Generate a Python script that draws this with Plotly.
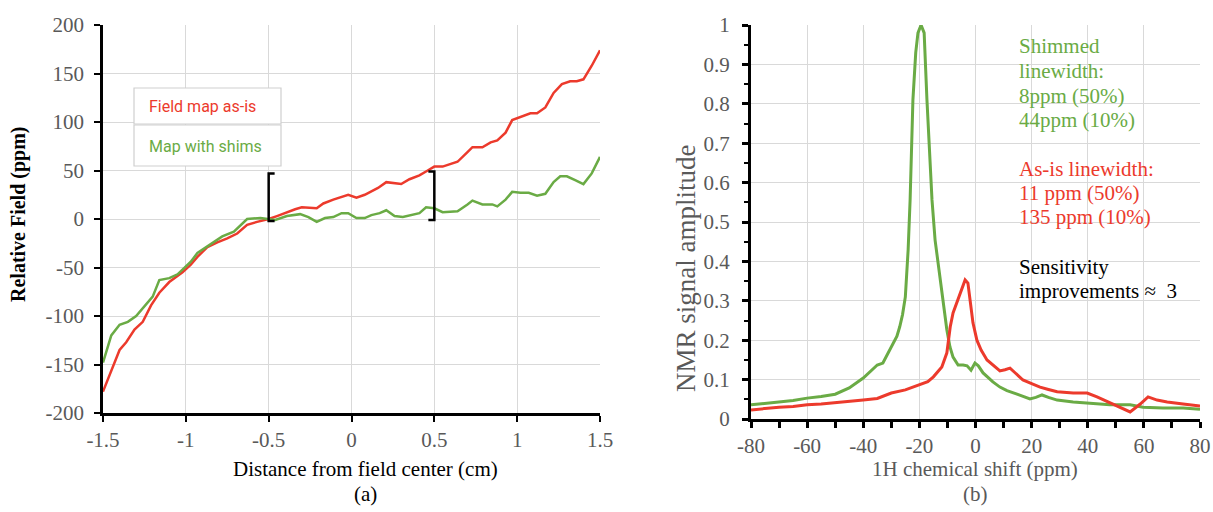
import plotly.graph_objects as go

# ---------------- data: panel (a) ----------------
asis_x = [-1.50, -1.45, -1.40, -1.36, -1.31, -1.26, -1.21, -1.16, -1.10, -1.02, -0.97, -0.93, -0.87, -0.81,
          -0.75, -0.69, -0.63, -0.57, -0.50, -0.45, -0.39, -0.34, -0.30, -0.21, -0.17, -0.11, -0.02, 0.03,
          0.08, 0.16, 0.21, 0.26, 0.30, 0.35, 0.41, 0.46, 0.50, 0.55, 0.64, 0.70, 0.73, 0.79, 0.84, 0.88,
          0.93, 0.97, 1.02, 1.08, 1.12, 1.17, 1.22, 1.27, 1.32, 1.36, 1.40, 1.45, 1.50]
asis_y = [-178, -157, -135, -127, -114, -106, -89, -76, -65, -55, -47, -39, -29, -24,
          -20, -15, -6, -3, 0, 3, 7, 10, 12, 11, 16, 20, 25, 22,
          25, 32, 38, 37, 36, 41, 45, 50, 54, 54, 59, 69, 74, 74, 79, 81,
          89, 102, 105, 109, 109, 115, 130, 139, 142, 142, 144, 158, 174]

shim_x = [-1.50, -1.45, -1.40, -1.35, -1.30, -1.26, -1.20, -1.16, -1.10, -1.05, -1.02, -0.97, -0.93, -0.87,
          -0.83, -0.78, -0.71, -0.67, -0.63, -0.55, -0.50, -0.46, -0.39, -0.31, -0.26, -0.21, -0.16, -0.11,
          -0.06, -0.02, 0.03, 0.08, 0.12, 0.17, 0.21, 0.26, 0.31, 0.37, 0.41, 0.45, 0.50, 0.55, 0.64, 0.70,
          0.73, 0.79, 0.85, 0.88, 0.93, 0.97, 1.02, 1.07, 1.12, 1.17, 1.22, 1.26, 1.30, 1.35, 1.40, 1.45, 1.50]
shim_y = [-148, -120, -109, -106, -100, -92, -80, -63, -61, -57, -52, -44, -35, -28,
          -24, -18, -13, -7, 0, 1, 0, -1, 3, 5, 2, -3, 1, 2,
          6, 6, 1, 1, 4, 6, 9, 3, 2, 4, 6, 12, 11, 7, 8, 15,
          19, 15, 15, 13, 20, 28, 27, 27, 24, 26, 38, 44, 44, 40, 36, 47, 64]

a_xticks = [-1.5, -1, -0.5, 0, 0.5, 1, 1.5]
a_xlabels = ["-1.5", "-1", "-0.5", "0", "0.5", "1", "1.5"]
a_yticks = [-200, -150, -100, -50, 0, 50, 100, 150, 200]
a_ylabels = ["-200", "-150", "-100", "-50", "0", "50", "100", "150", "200"]

bracket_x = [-0.5, 0.5]
bracket_lo = [-2, -1]
bracket_hi = [47, 49]

# ---------------- data: panel (b) ----------------
g_x = [-80, -75, -70, -65, -60, -55, -50, -45, -40, -35, -33, -30, -28, -27, -26, -25, -24, -23.3, -22.3,
       -21.3, -20.5, -19.4, -18.3, -17.3, -16.4, -15.5, -14.4, -12.6, -11.3, -10.2, -9.1, -8.0, -6.2, -4.4,
       -3.0, -1.6, -0.2, 1.0, 2.7, 4.5, 6.2, 8.7, 11.2, 14.8, 17, 19.4, 21.5, 23.7, 26, 29.1, 34.8, 40.8,
       47.9, 55.1, 59.7, 66.8, 74.0, 80]
g_y = [0.036, 0.040, 0.043, 0.047, 0.053, 0.057, 0.063, 0.079, 0.104, 0.137, 0.142, 0.183, 0.21, 0.234,
       0.265, 0.31, 0.43, 0.556, 0.81, 0.93, 0.98, 1.0, 0.98, 0.81, 0.68, 0.556, 0.454, 0.353, 0.285,
       0.226, 0.183, 0.157, 0.137, 0.137, 0.135, 0.124, 0.142, 0.135, 0.117, 0.105, 0.094, 0.081, 0.072,
       0.063, 0.057, 0.051, 0.055, 0.061, 0.055, 0.048, 0.043, 0.040, 0.036, 0.036, 0.030, 0.028, 0.028,
       0.025]

r_x = [-80, -75, -70, -65, -60, -55, -50, -45, -40, -35, -30, -25, -20, -17, -15, -12, -10.2, -9, -8, -5.5,
       -3.7, -2.7, -1.5, -0.9, 0.5, 2, 4.1, 6.5, 8.7, 10.5, 12.3, 14, 16.9, 20, 23, 26, 29.1, 34.8, 39.8,
       43.3, 47.9, 51.5, 55.1, 58.7, 61.5, 64.7, 68.3, 74.0, 80]
r_y = [0.023, 0.027, 0.030, 0.032, 0.036, 0.038, 0.041, 0.044, 0.048, 0.052, 0.066, 0.074, 0.086, 0.095,
       0.107, 0.132, 0.168, 0.234, 0.269, 0.32, 0.353, 0.345, 0.28, 0.244, 0.2, 0.175, 0.15, 0.135, 0.122,
       0.125, 0.129, 0.118, 0.099, 0.09, 0.081, 0.075, 0.069, 0.066, 0.066, 0.056, 0.041, 0.030, 0.018,
       0.038, 0.056, 0.048, 0.043, 0.038, 0.033]

b_xticks = [-80, -60, -40, -20, 0, 20, 40, 60, 80]
b_xlabels = ["-80", "-60", "-40", "-20", "0", "20", "40", "60", "80"]
b_yticks = [0, 0.1, 0.2, 0.3, 0.4, 0.5, 0.6, 0.7, 0.8, 0.9, 1]
b_ylabels = ["0", "0.1", "0.2", "0.3", "0.4", "0.5", "0.6", "0.7", "0.8", "0.9", "1"]

RED = "#EC3A2C"
GREEN = "#6AAB45"
GRAY = "#595959"
GRID = "#D9D9D9"
SERIF = "Liberation Serif"

W, H = 1213, 512
def px(x):
    return x / W
def py(y):
    return 1 - y / H

fig = go.Figure()
fig.add_trace(go.Scatter(x=asis_x, y=asis_y, mode="lines", line=dict(color=RED, width=2.5),
                         xaxis="x", yaxis="y", showlegend=False))
fig.add_trace(go.Scatter(x=shim_x, y=shim_y, mode="lines", line=dict(color=GREEN, width=2.5),
                         xaxis="x", yaxis="y", showlegend=False))
fig.add_trace(go.Scatter(x=g_x, y=g_y, mode="lines", line=dict(color=GREEN, width=3),
                         xaxis="x2", yaxis="y2", showlegend=False))
fig.add_trace(go.Scatter(x=r_x, y=r_y, mode="lines", line=dict(color=RED, width=3),
                         xaxis="x2", yaxis="y2", showlegend=False))

shapes = []
serif = 0.036
for i, bx in enumerate(bracket_x):
    d = serif if i == 0 else -serif
    path = (f"M {bx + d},{bracket_hi[i]} L {bx},{bracket_hi[i]} L {bx},{bracket_lo[i]} "
            f"L {bx + d},{bracket_lo[i]}")
    shapes.append(dict(type="path", path=path, xref="x", yref="y",
                       line=dict(color="black", width=2.5)))
for (y0, y1) in [(88, 124), (125, 166)]:
    shapes.append(dict(type="rect", xref="paper", yref="paper", x0=px(134), x1=px(281),
                       y0=py(y1), y1=py(y0), line=dict(color="#CFCFCF", width=1.2),
                       fillcolor="white", layer="above"))

ann = []
def text(x, y, s, color, size=21, family=SERIF, xanchor="center", angle=0, bold=False):
    ann.append(dict(x=px(x), y=py(y), xref="paper", yref="paper", text=(f"<b>{s}</b>" if bold else s),
                    showarrow=False, xanchor=xanchor, yanchor="middle", textangle=angle,
                    font=dict(family=family, size=size, color=color)))

text(147, 106, "Field map as-is", RED, size=16, family="Roboto", xanchor="left")
text(147, 146, "Map with shims", GREEN, size=16, family="Roboto", xanchor="left")

text(18, 214, "Relative Field (ppm)", "black", size=20, angle=-90, bold=True)
text(365, 469, "Distance from field center (cm)", "black")
text(365, 494, "(a)", "black")

text(686, 268, "NMR signal amplitude", GRAY, size=27, angle=-90)
text(975, 469, "1H chemical shift (ppm)", GRAY)
text(975, 494, "(b)", GRAY)

for y, s in [(46, "Shimmed"), (71, "linewidth:"), (96, "8ppm (50%)"), (120, "44ppm (10%)")]:
    text(1017, y, s, GREEN, xanchor="left")
for y, s in [(169, "As-is linewidth:"), (193, "11 ppm (50%)"), (217, "135 ppm (10%)")]:
    text(1017, y, s, RED, xanchor="left")
for y, s in [(267, "Sensitivity"), (291, "improvements ≈  3")]:
    text(1017, y, s, "black", xanchor="left")

tickfont = dict(family=SERIF, size=21, color=GRAY)
common = dict(showgrid=True, gridcolor=GRID, gridwidth=1, zeroline=False, showline=True,
              linecolor="black", ticks="outside", tickcolor="black", tickfont=tickfont,
              automargin=False, tickmode="array")
fig.update_layout(
    width=W, height=H, margin=dict(l=0, r=0, t=0, b=0, autoexpand=False),
    paper_bgcolor="white", plot_bgcolor="white",
    shapes=shapes, annotations=ann,
    xaxis=dict(domain=[px(103), px(600)], range=[-1.5, 1.5], tickvals=a_xticks, ticktext=a_xlabels,
               linewidth=2.5, ticklen=6, tickwidth=2, ticklabelstandoff=0, anchor="y", **common),
    yaxis=dict(domain=[py(413), py(25)], range=[-200, 200], tickvals=a_yticks, ticktext=a_ylabels,
               linewidth=2.5, ticklen=6, tickwidth=2, ticklabelstandoff=6, anchor="x", **common),
    xaxis2=dict(domain=[px(751), px(1200)], range=[-80, 80], tickvals=b_xticks, ticktext=b_xlabels,
                linewidth=3, ticklen=6, tickwidth=2.5, ticklabelstandoff=0, anchor="y2",
                minor=dict(dtick=10, ticks="outside", ticklen=6, tickwidth=2.5, tickcolor="black",
                           showgrid=False),
                **common),
    yaxis2=dict(domain=[py(419), py(25)], range=[0, 1], tickvals=b_yticks, ticktext=b_ylabels,
                linewidth=3, ticklen=6, tickwidth=2.5, ticklabelstandoff=8, anchor="x2",
                minor=dict(dtick=0.05, ticks="outside", ticklen=4, tickwidth=2, tickcolor="black",
                           showgrid=False),
                **common),
)

fig.write_html("out.html")
